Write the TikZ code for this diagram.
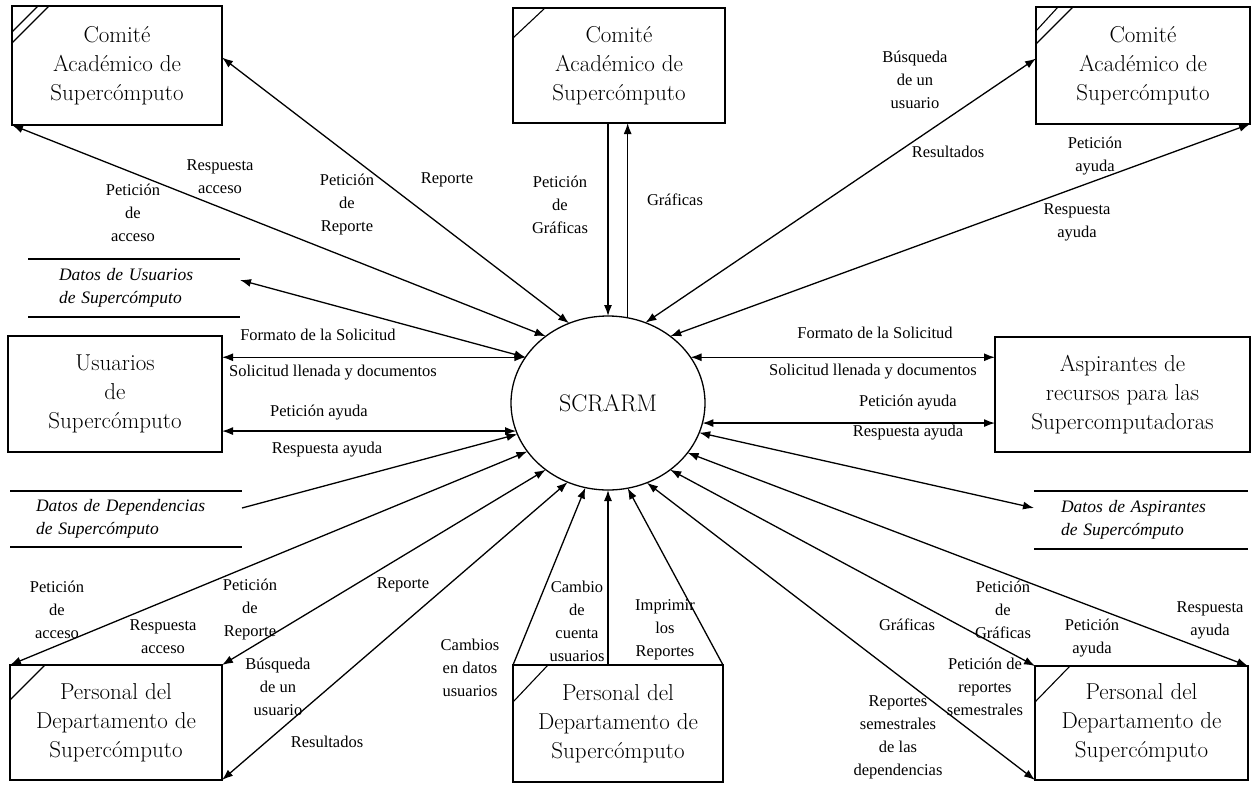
\documentclass[tikz,border=0pt]{standalone}
\usepackage{fontspec}
\newfontfamily\lblfont{Liberation Serif}
\usetikzlibrary{arrows.meta,shapes.geometric,calc}
\begin{document}
\begin{tikzpicture}[x=1pt,y=-1pt,
  ent/.style={draw, line width=1.4pt, align=center, inner sep=0pt, outer sep=0pt,
    font=\fontsize{23}{29}\selectfont},
  lbl/.style={font=\lblfont\fontsize{16.5}{23}\selectfont, align=center, inner sep=0pt},
  sto/.style={font=\lblfont\itshape\fontsize{17.5}{23}\selectfont, align=left, inner sep=0pt, outer sep=0pt},
  stoline/.style={line width=1.4pt},
  corner/.style={line width=1.1pt},
  flow/.style={line width=1.3pt, {Latex[length=11pt,width=8pt]}-{Latex[length=11pt,width=8pt]}},
  fin/.style={line width=1.3pt, -{Latex[length=11pt,width=8pt]}},
]
\useasboundingbox[fill=white] (0,0) rectangle (1253,787);

% process
\node[draw, ellipse, line width=1.3pt, minimum width=194pt, minimum height=174pt, inner sep=0pt, outer sep=0pt,
  font=\fontsize{24}{24}\selectfont] (c) at (608,403) {SCRARM};

% external entities
\node[ent, minimum width=210pt, minimum height=119pt] (tl) at (117,65.5) {Comité\\Académico de\\Supercómputo};
\node[ent, minimum width=212pt, minimum height=115pt] (tm) at (619,65.5) {Comité\\Académico de\\Supercómputo};
\node[ent, minimum width=214pt, minimum height=117pt] (tr) at (1143,65.5) {Comité\\Académico de\\Supercómputo};
\node[ent, minimum width=214pt, minimum height=116pt] (us) at (115,394) {Usuarios\\de\\Supercómputo};
\node[ent, minimum width=255pt, minimum height=115pt] (as) at (1122.5,394.5) {Aspirantes de\\recursos para las\\Supercomputadoras};
\node[ent, minimum width=212pt, minimum height=115pt] (bl) at (116,722.5) {Personal del\\Departamento de\\Supercómputo};
\node[ent, minimum width=210pt, minimum height=117pt] (bm) at (618,723.5) {Personal del\\Departamento de\\Supercómputo};
\node[ent, minimum width=213pt, minimum height=114pt] (br) at (1141.5,723) {Personal del\\Departamento de\\Supercómputo};

% duplicate marks
\draw[corner] ($(tl.north west)+(0,26)$) -- ($(tl.north west)+(26,0)$);
\draw[corner] ($(tl.north west)+(0,37)$) -- ($(tl.north west)+(37,0)$);
\draw[corner] ($(tm.north west)+(0,30)$) -- ($(tm.north west)+(32,0)$);
\draw[corner] ($(tr.north west)+(0,24)$) -- ($(tr.north west)+(22,0)$);
\draw[corner] ($(tr.north west)+(0,37)$) -- ($(tr.north west)+(37,0)$);
\draw[corner] ($(bl.north west)+(0,35)$) -- ($(bl.north west)+(35,0)$);
\draw[corner] ($(bm.north west)+(0,37)$) -- ($(bm.north west)+(35,0)$);
\draw[corner] ($(br.north west)+(0,36)$) -- ($(br.north west)+(35,0)$);

% data stores
\node[sto, minimum width=212pt, minimum height=58pt, text width=150pt] (su) at (134,288)
  {Datos de Usuarios\\de Supercómputo};
\node[sto, minimum width=232pt, minimum height=56pt, text width=180pt] (sd) at (126,519)
  {Datos de Dependencias\\de Supercómputo};
\node[sto, minimum width=214pt, minimum height=58pt, text width=160pt] (sa) at (1141,520)
  {Datos de Aspirantes\\de Supercómputo};
\foreach \s in {su,sd,sa}{
  \draw[stoline] (\s.north west) -- (\s.north east);
  \draw[stoline] (\s.south west) -- (\s.south east);
}

% flows
\draw[flow] (tl.south west) -- (c.133);
\draw[flow] ([yshift=8pt]tl.east) -- (c.116);
\draw[flow] ([yshift=8pt]su.east) -- (c.151);
\draw[flow] (c.151 -| us.east) -- (c.151);
\draw[flow] (c.197 -| us.east) -- (c.197);
\draw[fin] ([yshift=11pt]sd.east) -- (c.199);
\draw[flow] (bl.north west) -- (c.211);
\draw[flow] (bl.north east) -- (c.227);
\draw[flow] (bl.south east) -- (c.243);
\draw[fin] (bm.north west) -- (c.255);
\draw[fin] (c.south |- bm.north) -- (c.south);
\draw[fin] (bm.north east) -- (c.283);
\draw[flow] (br.south west) -- (c.296);
\draw[flow] (br.north west) -- (c.313);
\draw[flow] (br.north east) -- (c.328);
\draw[flow] ([yshift=12pt]sa.west) -- (c.342);
\draw[flow] (c.348 -| as.west) -- (c.348);
\draw[flow] (c.29 -| as.west) -- (c.29);
\draw[flow] (tr.south east) -- (c.47);
\draw[flow] ([yshift=7pt]tr.west) -- (c.65);
\draw[fin] (c.north |- tm.south) -- (c.north);
\draw[fin] (c.77) -- (c.77 |- tm.south);

% labels top
\node[lbl] (l1) at (220,177) {Respuesta\\acceso};
\node[lbl] (l2) at (133,213) {Petición\\de\\acceso};
\node[lbl] (l3) at (347,205) {Petición\\de\\Reporte};
\node[lbl] (l4) at (447,180) {Reporte};
\node[lbl] (l5) at (560,205) {Petición\\de\\Gráficas};
\node[lbl] (l6) at (675,200) {Gráficas};
\node[lbl] (l7) at (915,80) {Búsqueda\\de un\\usuario};
\node[lbl] (l8) at (948,152) {Resultados};
\node[lbl] (l9) at (1095,156) {Petición\\ayuda};
\node[lbl] (l10) at (1077,222) {Respuesta\\ayuda};
% labels middle
\node[lbl] (l11) at (318,335) {Formato de la Solicitud};
\node[lbl] (l12) at (333,373) {Solicitud llenada y documentos};
\node[lbl] (l13) at (319,413) {Petición ayuda};
\node[lbl] (l14) at (327,450) {Respuesta ayuda};
\node[lbl] (l15) at (875,333) {Formato de la Solicitud};
\node[lbl] (l16) at (873,372) {Solicitud llenada y documentos};
\node[lbl] (l17) at (908,403) {Petición ayuda};
\node[lbl] (l18) at (908,433) {Respuesta ayuda};
% labels bottom
\node[lbl] (l19) at (57,610) {Petición\\de\\acceso};
\node[lbl] (l20) at (163,637) {Respuesta\\acceso};
\node[lbl] (l21) at (250,610) {Petición\\de\\Reporte};
\node[lbl] (l22) at (403,585) {Reporte};
\node[lbl] (l23) at (278,687) {Búsqueda\\de un\\usuario};
\node[lbl] (l24) at (327,742) {Resultados};
\node[lbl] (l25) at (470,668) {Cambios\\en datos\\usuarios};
\node[lbl] (l26) at (577,621) {Cambio\\de\\cuenta\\usuarios};
\node[lbl] (l27) at (665,630) {Imprimir\\los\\Reportes};
\node[lbl] (l28) at (907,625) {Gráficas};
\node[lbl] (l29) at (1003,610) {Petición\\de\\Gráficas};
\node[lbl] (l30) at (1092,638) {Petición\\ayuda};
\node[lbl] (l31) at (1210,620) {Respuesta\\ayuda};
\node[lbl] (l32) at (985,687) {Petición de\\reportes\\semestrales};
\node[lbl] (l33) at (898,737) {Reportes\\semestrales\\de las\\dependencias};
\end{tikzpicture}
\end{document}
